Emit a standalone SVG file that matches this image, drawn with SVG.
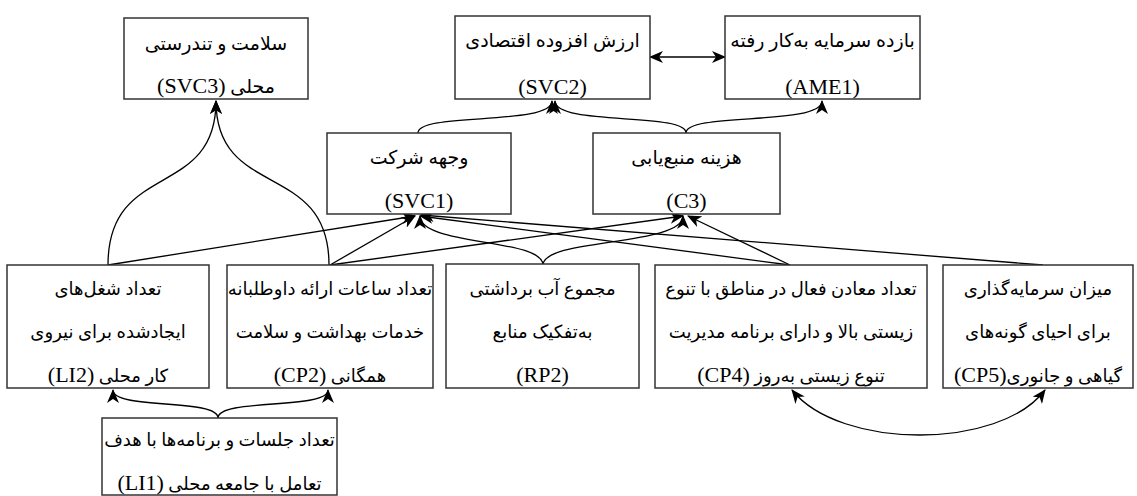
<svg xmlns="http://www.w3.org/2000/svg" width="1137" height="496" viewBox="0 0 1137 496">
<style>
.box{fill:#fff;stroke:#333;stroke-width:1.5}
.t{font-family:"Liberation Serif","DejaVu Sans",serif;font-size:22px;fill:#000;text-anchor:middle}
.fa{direction:rtl;unicode-bidi:embed;font-size:18px}
.big{font-size:19px}
.l{font-size:22px}
.e{fill:none;stroke:#000;stroke-width:1.3}
.a{marker-end:url(#ah)}
.d{marker-start:url(#ah);marker-end:url(#ah)}
</style>
<defs>
<marker id="ah" markerUnits="userSpaceOnUse" markerWidth="14" markerHeight="12" viewBox="0 0 14 12" refX="13" refY="6" orient="auto-start-reverse">
<path d="M0,0 L14,6 L0,12 L4,6 z" fill="#000"/>
</marker>
</defs>
<g id="connectors">
<path class="e d" d="M650,57 L725,57"/>
<path class="e a" d="M418,133 C418,112 552,126 552,101"/>
<path class="e a" d="M686,133 C686,112 555,126 555,101"/>
<path class="e a" d="M686,133 C686,112 822,126 822,101"/>
<path class="e a" d="M108,265 C108,160 216,200 216,101"/>
<path class="e a" d="M329,265 C329,160 216,200 216,101"/>
<path class="e a" d="M108,265 L415,216"/>
<path class="e a" d="M330,265 L415,216"/>
<path class="e a" d="M330,265 L683,216"/>
<path class="e a" d="M543,265 C543,238 420,246 420,216"/>
<path class="e a" d="M543,265 C543,238 683,246 683,216"/>
<path class="e a" d="M790,265 L420,216"/>
<path class="e a" d="M790,265 L688,216"/>
<path class="e a" d="M1043,265 L421,215"/>
<path class="e a" d="M218,418 C218,398 113,410 113,390"/>
<path class="e a" d="M218,418 C218,398 328,410 328,390"/>
<path class="e d" d="M792,390 C840,450 1000,450 1045,390"/>
</g>
<g id="SVC3">
<rect class="box" x="124" y="18" width="184" height="81"/>
<text class="t fa big" x="216" y="50">سلامت و تندرستی</text>
<text class="t fa big" x="216" y="93">محلی <tspan class="l">(SVC3)</tspan></text>
</g>
<g id="SVC2">
<rect class="box" x="455" y="16" width="195" height="83"/>
<text class="t fa big" x="552.5" y="47">ارزش افزوده اقتصادی</text>
<text class="t" x="552.5" y="94">(SVC2)</text>
</g>
<g id="AME1">
<rect class="box" x="725" y="16" width="195" height="83"/>
<text class="t fa big" x="822.5" y="47">بازده سرمایه به‌کار رفته</text>
<text class="t" x="822.5" y="94">(AME1)</text>
</g>
<g id="SVC1">
<rect class="box" x="327" y="133" width="184" height="81"/>
<text class="t fa big" x="419" y="164">وجهه شرکت</text>
<text class="t" x="419" y="208">(SVC1)</text>
</g>
<g id="C3">
<rect class="box" x="593" y="133" width="187" height="81"/>
<text class="t fa big" x="686.5" y="164">هزینه منبع‌یابی</text>
<text class="t" x="686.5" y="208">(C3)</text>
</g>
<g id="LI2">
<rect class="box" x="7" y="265" width="202" height="123"/>
<text class="t fa" x="108" y="295">تعداد شغل‌های</text>
<text class="t fa" x="108" y="338">ایجادشده برای نیروی</text>
<text class="t fa" x="108" y="382">کار محلی <tspan class="l">(LI2)</tspan></text>
</g>
<g id="CP2">
<rect class="box" x="227" y="265" width="206" height="123"/>
<text class="t fa" x="330" y="295">تعداد ساعات ارائه داوطلبانه</text>
<text class="t fa" x="330" y="338">خدمات بهداشت و سلامت</text>
<text class="t fa" x="330" y="382">همگانی <tspan class="l">(CP2)</tspan></text>
</g>
<g id="RP2">
<rect class="box" x="446" y="264" width="193" height="124"/>
<text class="t fa" x="542.5" y="295">مجموع آب برداشتی</text>
<text class="t fa" x="542.5" y="338">به‌تفکیک منابع</text>
<text class="t" x="542.5" y="382">(RP2)</text>
</g>
<g id="CP4">
<rect class="box" x="655" y="265" width="272" height="123"/>
<text class="t fa" x="791" y="295">تعداد معادن فعال در مناطق با تنوع</text>
<text class="t fa" x="791" y="338">زیستی بالا و دارای برنامه مدیریت</text>
<text class="t fa" x="791" y="382">تنوع زیستی به‌روز <tspan class="l">(CP4)</tspan></text>
</g>
<g id="CP5">
<rect class="box" x="943" y="265" width="190" height="123"/>
<text class="t fa" x="1038" y="295">میزان سرمایه‌گذاری</text>
<text class="t fa" x="1038" y="338">برای احیای گونه‌های</text>
<text class="t fa" x="1038" y="382">گیاهی و جانوری<tspan class="l">(CP5)</tspan></text>
</g>
<g id="LI1">
<rect class="box" x="102" y="418" width="235" height="77"/>
<text class="t fa" x="219.5" y="446">تعداد جلسات و برنامه‌ها با هدف</text>
<text class="t fa" x="219.5" y="490">تعامل با جامعه محلی <tspan class="l">(LI1)</tspan></text>
</g>
</svg>
